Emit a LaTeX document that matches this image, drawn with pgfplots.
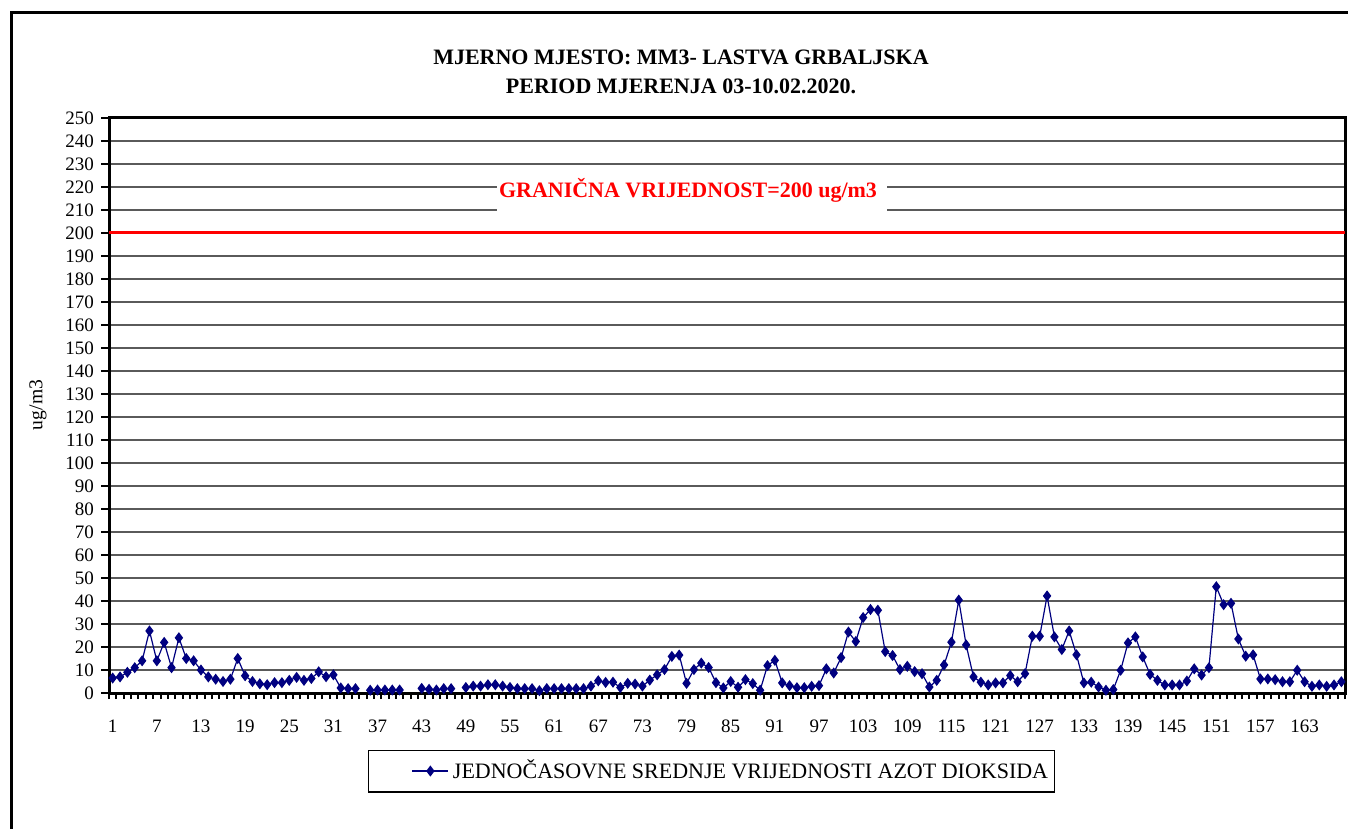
\documentclass[border=0pt]{standalone}
\usepackage{fontspec}
\setmainfont{Liberation Serif}
\usepackage{pgfplots}
\usepackage{pgfplotstable}
\pgfplotsset{compat=1.18}
\definecolor{navyblue}{HTML}{000080}
\definecolor{gridgray}{HTML}{5A5A5A}
\pgfplotstableread{
n v
1 6.5
2 7
3 9
4 11
5 14
6 27
7 14
8 22
9 11
10 24
11 15
12 14
13 10
14 7
15 6
16 5
17 6
18 15
19 7.5
20 5
21 4
22 3.6
23 4.5
24 4.5
25 5.5
26 6.8
27 5.5
28 6.3
29 9.2
30 7.1
31 7.9
32 2.2
33 1.9
34 1.9
35 nan
36 1.2
37 1.3
38 1.3
39 1.3
40 1.3
41 nan
42 nan
43 2
44 1.6
45 1.3
46 1.9
47 1.9
48 nan
49 2.4
50 3
51 3
52 3.6
53 3.6
54 3
55 2.4
56 1.9
57 1.9
58 1.9
59 1.0
60 1.9
61 1.9
62 1.9
63 1.9
64 1.9
65 1.9
66 3.0
67 5.3
68 4.6
69 4.7
70 2.4
71 4.2
72 3.9
73 3.0
74 5.6
75 7.9
76 10.2
77 15.9
78 16.5
79 4.2
80 10.2
81 13.0
82 11.1
83 4.5
84 2.2
85 5.0
86 2.5
87 5.8
88 4.1
89 1.2
90 11.9
91 14.2
92 4.4
93 3.2
94 2.3
95 2.3
96 2.9
97 3.2
98 10.5
99 8.7
100 15.4
101 26.5
102 22.4
103 32.8
104 36.3
105 36.0
106 18.0
107 16.3
108 10.2
109 11.6
110 9.3
111 8.4
112 2.6
113 5.5
114 12.2
115 22.1
116 40.4
117 20.9
118 7.0
119 4.7
120 3.5
121 4.4
122 4.4
123 7.6
124 4.9
125 8.4
126 24.7
127 24.7
128 42.2
129 24.4
130 18.9
131 27.0
132 16.6
133 4.4
134 4.7
135 2.6
136 1.2
137 1.5
138 9.9
139 21.8
140 24.4
141 15.7
142 8.1
143 5.5
144 3.5
145 3.5
146 3.5
147 5.2
148 10.5
149 7.8
150 11.0
151 46.2
152 38.4
153 39.0
154 23.5
155 16.0
156 16.6
157 6.1
158 6.1
159 5.8
160 4.9
161 4.9
162 9.9
163 4.9
164 2.9
165 3.5
166 2.9
167 3.5
168 4.9
}\datatable
\begin{document}
\begin{tikzpicture}[x=0.5bp,y=0.5bp]
\useasboundingbox (0,0) rectangle (1348,828);
\clip (0,0) rectangle (1348,828);
\fill[white] (0,0) rectangle (1348,828);
\draw[line width=1.5bp] (11.5,815.5) rectangle (1420,-40);
\node[font=\fontsize{11bp}{13bp}\selectfont\bfseries] at (681,771) {MJERNO MJESTO: MM3- LASTVA GRBALJSKA};
\node[font=\fontsize{11bp}{13bp}\selectfont\bfseries] at (681,742) {PERIOD MJERENJA 03-10.02.2020.};
\node[rotate=90, font=\fontsize{9.8bp}{12bp}\selectfont] at (38,423) {ug/m3};
\begin{axis}[
  at={(54.5bp,67.5bp)}, anchor=south west, scale only axis,
  width=618bp, height=287.5bp,
  xmin=0.5, xmax=168.5, ymin=0, ymax=250,
  ytick={0,10,...,250},
  xtick={1,7,...,163},
  minor xtick={0.5,1.5,...,168.5},
  xtick pos=bottom, ytick pos=left,
  tick align=outside,
  major tick length=4bp, minor tick length=3bp,
  major x tick style={draw=none},
  minor x tick style={black, line width=1bp},
  major y tick style={black, line width=0.8bp},
  ymajorgrids, major grid style={gridgray, line width=0.8bp},
  axis line style={black, line width=1.5bp},
  tick label style={font=\fontsize{9.5bp}{11bp}\selectfont},
  /pgf/number format/assume math mode=true,
  xticklabel style={yshift=-6bp},
  unbounded coords=jump,
  clip=false,
  legend style={at={(0.4875,-0.1357)}, anchor=center, draw=black, line width=0.6bp,
    inner xsep=1.3bp, inner ysep=3bp,
    font=\fontsize{11bp}{13bp}\selectfont},
  legend image code/.code={
    \path[draw=none,fill=none] (-20.7bp,0bp) -- (0bp,0bp);
    \draw[mark repeat=2,mark phase=2,#1] plot coordinates {(0bp,0bp) (9bp,0bp) (18bp,0bp)};
  },
]
\addplot[red, line width=1.5bp, forget plot] coordinates {(0.5,200) (168.5,200)};
\fill[white] (axis cs:53.2,205.6) rectangle (axis cs:106.2,225.2);
\node[text=red, font=\fontsize{11bp}{13bp}\selectfont\bfseries] at (axis cs:79.2,218.7) {GRANIČNA VRIJEDNOST=200 ug/m3};
\addplot[navyblue, line width=0.6bp, mark=diamond*, mark size=2.3bp, mark options={fill=navyblue}] table[x=n, y=v] {\datatable};
\addlegendentry{JEDNOČASOVNE SREDNJE VRIJEDNOSTI AZOT DIOKSIDA}
\end{axis}
\end{tikzpicture}
\end{document}
